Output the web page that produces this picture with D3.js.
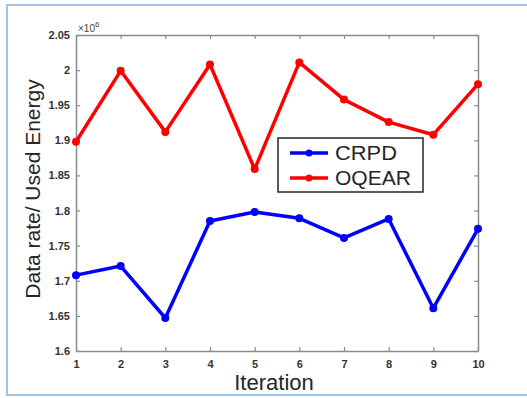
<!DOCTYPE html>
<html>
<head>
<meta charset="utf-8">
<script src="https://cdn.jsdelivr.net/npm/d3@7"></script>
<style>
  body { margin: 0; background: #fff; }
  svg text { font-family: "Liberation Sans", Arial, sans-serif; }
</style>
</head>
<body>
<div id="chart"></div>
<script>
// data (values in units of 1e6)
const iterations = [1, 2, 3, 4, 5, 6, 7, 8, 9, 10];
const crpd = [1.708, 1.721, 1.647, 1.785, 1.798, 1.789, 1.761, 1.788, 1.661, 1.774];
const oqear = [1.898, 1.999, 1.912, 2.008, 1.859, 2.011, 1.958, 1.926, 1.908, 1.980];
const yTicks = [1.6, 1.65, 1.7, 1.75, 1.8, 1.85, 1.9, 1.95, 2, 2.05];
const seriesNames = ["CRPD", "OQEAR"];
const seriesColors = ["#0000ff", "#ff0000"];

const width = 527, height = 398;
const margin = { top: 35, right: 49, bottom: 47, left: 76 };

const svg = d3.select("#chart").append("svg")
    .attr("width", width)
    .attr("height", height);

// light blue frame round the figure
svg.append("rect")
    .attr("x", 7).attr("y", 5)
    .attr("width", 530).attr("height", 390)
    .attr("fill", "none")
    .attr("stroke", "#9dc3e6")
    .attr("stroke-width", 2);

const x = d3.scaleLinear()
    .domain([1, 10])
    .range([margin.left, width - margin.right]);
const y = d3.scaleLinear()
    .domain([1.6, 2.05])
    .range([height - margin.bottom, margin.top]);

const axisColor = "#8c8c8c";

function styleAxis(g) {
    g.select(".domain").attr("stroke", axisColor).attr("stroke-width", 1.5);
    g.selectAll(".tick line").attr("stroke", axisColor).attr("stroke-width", 1.2);
    g.selectAll(".tick text")
        .attr("fill", "#333")
        .style("font-size", "11px")
        .style("font-weight", "bold");
}

// bottom and left axes, ticks pointing inside
svg.append("g")
    .attr("transform", `translate(0,${height - margin.bottom})`)
    .call(d3.axisBottom(x).tickValues(iterations).tickSizeInner(-4).tickSizeOuter(0).tickPadding(9))
    .call(styleAxis);

svg.append("g")
    .attr("transform", `translate(${margin.left},0)`)
    .call(d3.axisLeft(y).tickValues(yTicks).tickFormat(d3.format("~g")).tickSizeInner(-4).tickSizeOuter(0).tickPadding(6))
    .call(styleAxis);

// top and right box lines with ticks, no labels
svg.append("g")
    .attr("transform", `translate(0,${margin.top})`)
    .call(d3.axisTop(x).tickValues(iterations).tickSizeInner(-4).tickSizeOuter(0).tickFormat(""))
    .call(styleAxis);

svg.append("g")
    .attr("transform", `translate(${width - margin.right},0)`)
    .call(d3.axisRight(y).tickValues(yTicks).tickSizeInner(-4).tickSizeOuter(0).tickFormat(""))
    .call(styleAxis);

// exponent label
const expo = svg.append("text")
    .attr("x", margin.left + 2)
    .attr("y", margin.top - 3)
    .attr("fill", "#444")
    .style("font-size", "10px");
expo.append("tspan").text("×10");
expo.append("tspan").attr("dy", -5).style("font-size", "8px").text("6");

// series
const line = d3.line()
    .x((d, i) => x(iterations[i]))
    .y(d => y(d));

[crpd, oqear].forEach((vals, k) => {
    svg.append("path")
        .datum(vals)
        .attr("d", line)
        .attr("fill", "none")
        .attr("stroke", seriesColors[k])
        .attr("stroke-width", 3.5)
        .attr("stroke-linejoin", "round");
    svg.append("g").selectAll("circle")
        .data(vals)
        .join("circle")
        .attr("cx", (d, i) => x(iterations[i]))
        .attr("cy", d => y(d))
        .attr("r", 4)
        .attr("fill", seriesColors[k]);
});

// axis titles
svg.append("text")
    .attr("x", 274)
    .attr("y", 390)
    .attr("text-anchor", "middle")
    .attr("fill", "#262626")
    .style("font-size", "22px")
    .text("Iteration");

svg.append("text")
    .attr("transform", `translate(40,189) rotate(-90)`)
    .attr("text-anchor", "middle")
    .attr("fill", "#262626")
    .style("font-size", "21px")
    .text("Data rate/ Used Energy");

// legend
const legend = svg.append("g").attr("transform", "translate(278,138)");
legend.append("rect")
    .attr("width", 145).attr("height", 54)
    .attr("fill", "#fff")
    .attr("stroke", "#262626")
    .attr("stroke-width", 1.5);

seriesNames.forEach((name, k) => {
    const ly = 15 + k * 25;
    legend.append("line")
        .attr("x1", 12).attr("x2", 50)
        .attr("y1", ly).attr("y2", ly)
        .attr("stroke", seriesColors[k])
        .attr("stroke-width", 3.5);
    legend.append("circle")
        .attr("cx", 31).attr("cy", ly).attr("r", 3.5)
        .attr("fill", seriesColors[k]);
    legend.append("text")
        .attr("x", 57).attr("y", ly + 7)
        .attr("fill", "#262626")
        .style("font-size", "20px")
        .attr("textLength", name === "OQEAR" ? 76 : 62)
        .attr("lengthAdjust", "spacingAndGlyphs")
        .text(name);
});
</script>
</body>
</html>
